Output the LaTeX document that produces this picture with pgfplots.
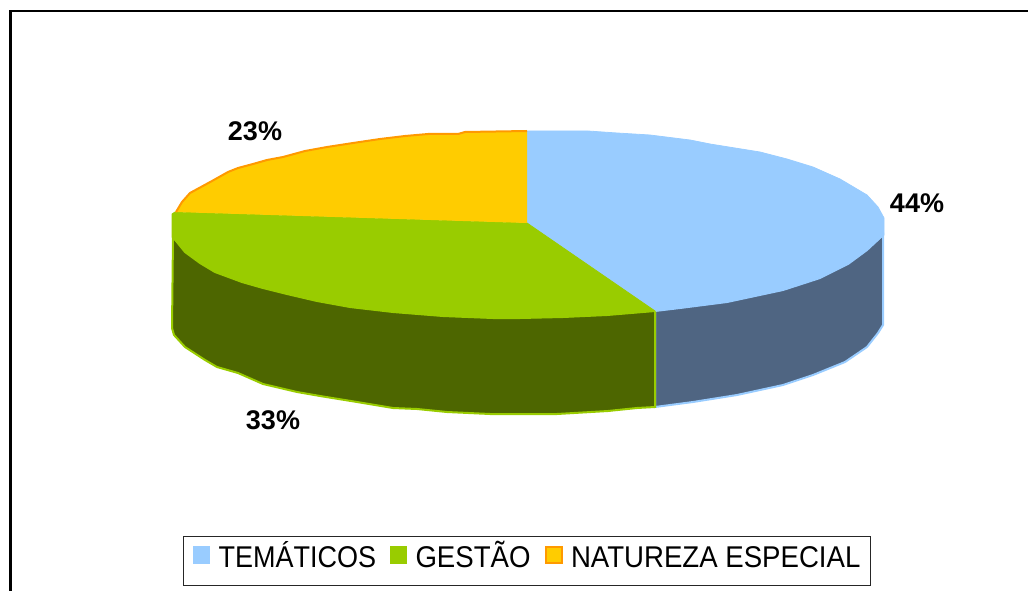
\documentclass[border=0pt]{standalone}
\usepackage{pgfplots}
\pgfplotsset{compat=1.18}
\usepackage{fontspec}
\setmainfont{Liberation Sans}
\definecolor{cblue}{HTML}{99CCFF}
\definecolor{cgreen}{HTML}{99CC00}
\definecolor{cyellow}{HTML}{FFCC00}
\definecolor{corange}{HTML}{FF9900}
\definecolor{dblue}{HTML}{4F6582}
\definecolor{dgreen}{HTML}{4D6600}
\newcommand{\legtxt}[2]{\scalebox{#1}[1]{\fontsize{30}{32}\selectfont #2}}
\begin{document}
\begin{tikzpicture}
\path[use as bounding box] (0,0) rectangle (1028pt,591pt);
\begin{axis}[
  at={(0,0)}, anchor=south west,
  scale only axis, width=1028pt, height=591pt,
  xmin=0, xmax=1028, ymin=0, ymax=591, y dir=reverse,
  hide axis, clip=true,
  legend style={
    at={(axis cs:526.7,561.2)}, anchor=center,
    draw=black!85, line width=1pt, fill=white,
    legend columns=3,
    inner xsep=10pt, inner ysep=9pt,
    nodes={inner sep=0pt, text height=22pt, text depth=9pt},
    /tikz/every odd column/.append style={column sep=8.5pt},
    /tikz/every even column/.append style={column sep=14pt},
  },
  legend image code/.code={\draw[#1] (0.5pt,-2pt) rectangle (16.5pt,14.5pt);},
]
\addlegendimage{fill=cblue, draw=cblue, line width=1pt}
\addlegendentry{\legtxt{0.9}{TEMÁTICOS}}
\addlegendimage{fill=cgreen, draw=cgreen, line width=1pt}
\addlegendentry{\legtxt{0.92}{GESTÃO}}
\addlegendimage{fill=cyellow, draw=corange, line width=2pt}
\addlegendentry{\legtxt{0.92}{NATUREZA ESPECIAL}}

% frame
\addplot[black, line width=2.4pt, forget plot] coordinates {(10.5,600) (10.5,11.3) (1040,11.3)};

% blue side
\addplot[fill=dblue, draw=cblue, line width=2pt, forget plot] coordinates {
(655,311)(680,308)(727,302)(783,290)(820,278)(848,264)(867,250)(883,235)
(883,325)(878,333)(867,347)(845,362)(813,375)(783,385)(737,395)(693,402)(655,407)} -- cycle;
% green side
\addplot[fill=dgreen, draw=cgreen, line width=2pt, forget plot] coordinates {
(173,237)(185,252)(200,263)(215,272)(242,282)(263,288)(287,294)(317,301)(350,307)(393,312)(443,316)(493,318)(520,318)(563,317)(607,315)(655,311)
(655,407)(637,408)(608,411)(557,414)(490,414)(447,412)(417,409)(393,408)(357,402)(320,396)(297,392)(263,384)(238,373)(217,367)(205,360)(185,347)(174,335)(172,328)} -- cycle;

% top faces
\addplot[fill=cblue, draw=cblue, line width=0.8pt, forget plot] coordinates {
(527,223)(527,131)(588,131)(617,133)(650,135)(690,140)(710,144)(760,152)(787,159)(813,167)(840,179)(867,195)(878,207)(884,218)(884,235)
(867,250)(848,264)(820,278)(783,290)(727,302)(680,308)(655,311)} -- cycle;
\addplot[fill=cgreen, draw=cgreen, line width=0.8pt, forget plot] coordinates {
(527,223)(175,212)(172,214)(172,237)(185,252)(200,263)(215,272)(242,282)(263,288)(287,294)(317,301)(350,307)(393,312)(443,316)(493,318)(520,318)(563,317)(607,315)(655,311)} -- cycle;
\addplot[fill=cyellow, draw=none, forget plot] coordinates {
(527,223)(527,131)(465,132)(458,134)(428,134)(405,136)(380,139)(353,143)(327,147)(305,151)(283,157)(267,160)(253,164)(238,168)(228,172)(212,181)(190,193)(182,202)(176,212)(175,212)} -- cycle;
\addplot[corange, line width=2pt, forget plot] coordinates {
(527,131)(465,132)(458,134)(428,134)(405,136)(380,139)(353,143)(327,147)(305,151)(283,157)(267,160)(253,164)(238,168)(228,172)(212,181)(190,193)(182,202)(176,212)};

\node[font=\bfseries\fontsize{27}{30}\selectfont] at (axis cs:255,131) {23\%};
\node[font=\bfseries\fontsize{27}{30}\selectfont] at (axis cs:917,203) {44\%};
\node[font=\bfseries\fontsize{27}{30}\selectfont] at (axis cs:273,420) {33\%};
\end{axis}
\end{tikzpicture}
\end{document}
